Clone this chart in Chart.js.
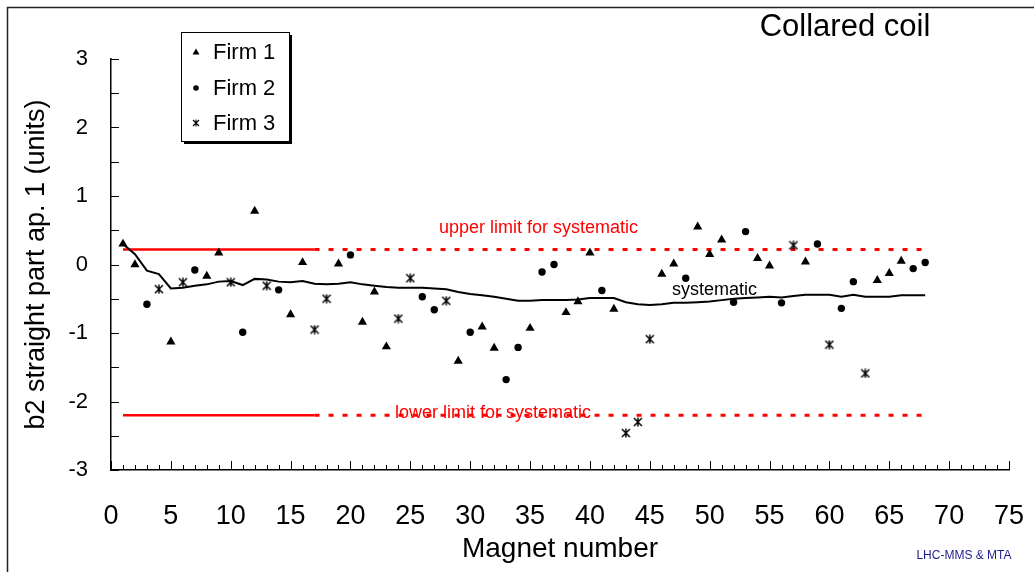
<!DOCTYPE html>
<html lang="en">
<head>
    <meta charset="UTF-8">
    <title>Collared coil - b2 straight part</title>
    <script src="https://cdn.jsdelivr.net/npm/chart.js"></script>
    <style>
        body { margin: 0; background: #fff; overflow: hidden; }
        canvas { display: block; }
    </style>
</head>
<body>
    <canvas id="coilChart" width="1034" height="572"></canvas>

    <script>
        const FONT = "'Liberation Sans', Arial, sans-serif";

        // Series names
        const seriesNames = ['Firm 1', 'Firm 2', 'Firm 3'];

        // Firm 1 (triangles)
        const firm1Magnets = [1, 2, 5, 8, 9, 12, 15, 16, 19, 21, 22, 23, 29, 31, 32, 35, 38, 39, 40, 42, 46, 47, 49, 50, 51, 54, 55, 58, 64, 65, 66];
        const firm1Values = [0.30, 0.00, -1.13, -0.17, 0.17, 0.78, -0.73, 0.03, 0.01, -0.84, -0.40, -1.20, -1.41, -0.91, -1.22, -0.93, -0.70, -0.54, 0.17, -0.65, -0.14, 0.01, 0.55, 0.15, 0.36, 0.09, -0.02, 0.04, -0.23, -0.13, 0.05];

        // Firm 2 (dots)
        const firm2Magnets = [3, 7, 11, 14, 20, 26, 27, 30, 33, 34, 36, 37, 41, 48, 52, 53, 56, 59, 61, 62, 67, 68];
        const firm2Values = [-0.58, -0.08, -0.99, -0.37, 0.14, -0.47, -0.66, -0.99, -1.68, -1.21, -0.11, 0.00, -0.38, -0.20, -0.55, 0.48, -0.56, 0.30, -0.64, -0.25, -0.06, 0.03];

        // Firm 3 (stars)
        const firm3Magnets = [4, 6, 10, 13, 17, 18, 24, 25, 28, 43, 44, 45, 57, 60, 63];
        const firm3Values = [-0.36, -0.26, -0.26, -0.31, -0.95, -0.50, -0.79, -0.20, -0.53, -2.46, -2.30, -1.09, 0.28, -1.17, -1.59];

        // Systematic (running mean), magnets 1..68
        const systematic = [
            0.30, 0.15, -0.09, -0.14, -0.35, -0.34, -0.31, -0.29, -0.25, -0.24,
            -0.30, -0.21, -0.22, -0.25, -0.26, -0.24, -0.28, -0.29, -0.28, -0.26,
            -0.29, -0.31, -0.33, -0.34, -0.34, -0.34, -0.35, -0.36, -0.40, -0.43,
            -0.45, -0.47, -0.50, -0.53, -0.53, -0.52, -0.52, -0.52, -0.51, -0.49,
            -0.49, -0.49, -0.55, -0.58, -0.59, -0.58, -0.56, -0.56, -0.55, -0.54,
            -0.52, -0.50, -0.49, -0.48, -0.47, -0.48, -0.46, -0.44, -0.44, -0.44,
            -0.47, -0.44, -0.47, -0.47, -0.47, -0.45, -0.45, -0.45
        ];

        // Limits for the systematic part
        const upperLimit = 0.22;
        const lowerLimit = -2.2;
        const limitSolidFrom = 1, limitSolidTo = 17, limitDashTo = 68;

        // Axes
        const xMin = 0, xMax = 75, xStep = 5;
        const yMin = -3, yMax = 3, yStep = 1, yMinorStep = 0.5;

        function toPoints(xs, ys) {
            return xs.map((x, i) => ({ x: x, y: ys[i] }));
        }

        // Excel-like star marker: X crossed by a vertical bar
        function makeStar(size, lw) {
            const c = document.createElement('canvas');
            c.width = size; c.height = size;
            const g = c.getContext('2d');
            g.strokeStyle = '#000';
            g.lineWidth = lw;
            const a = 1, b = size - 1, m = size / 2;
            g.beginPath();
            g.moveTo(a, a); g.lineTo(b, b);
            g.moveTo(b, a); g.lineTo(a, b);
            g.moveTo(m, a - 0.5); g.lineTo(m, b + 0.5);
            g.stroke();
            return c;
        }
        const starMarker = makeStar(10, 1.5);
        const starSmall = makeStar(8, 1.1);

        // Sheet frame (top and left edges only) + ticks pointing into the plot
        const frameAndTicks = {
            id: 'frameAndTicks',
            beforeDraw(chart) {
                const ctx = chart.ctx;
                ctx.save();
                ctx.strokeStyle = '#222';
                ctx.lineWidth = 1.5;
                ctx.beginPath();
                ctx.moveTo(7.5, chart.height);
                ctx.lineTo(7.5, 7.5);
                ctx.lineTo(chart.width, 7.5);
                ctx.stroke();
                ctx.restore();
            },
            afterDraw(chart) {
                const { ctx, scales: { x, y } } = chart;
                ctx.save();
                ctx.strokeStyle = '#000';
                ctx.lineWidth = 1;
                ctx.beginPath();
                for (let v = xMin; v <= xMax; v++) {
                    const px = Math.round(x.getPixelForValue(v)) + 0.5;
                    const len = v % xStep === 0 ? 9 : 5;
                    ctx.moveTo(px, y.bottom);
                    ctx.lineTo(px, y.bottom - len);
                }
                for (let v = yMin; v <= yMax + 1e-9; v += yMinorStep) {
                    const py = Math.round(y.getPixelForValue(v)) + 0.5;
                    ctx.moveTo(x.left, py);
                    ctx.lineTo(x.left + 8, py);
                }
                ctx.stroke();
                ctx.restore();
            }
        };

        // Texts, legend box and labels
        const annotations = {
            id: 'annotations',
            afterDraw(chart) {
                const { ctx, scales: { x, y } } = chart;
                ctx.save();
                ctx.textBaseline = 'middle';
                ctx.textAlign = 'center';

                ctx.fillStyle = '#ff0000';
                ctx.font = '18px ' + FONT;
                ctx.fillText('upper limit for systematic', x.getPixelForValue(35.7), y.getPixelForValue(upperLimit) - 21);
                ctx.fillText('lower limit for systematic', x.getPixelForValue(31.9), y.getPixelForValue(lowerLimit) - 2);

                ctx.fillStyle = '#000';
                ctx.fillText('systematic', x.getPixelForValue(50.4), y.getPixelForValue(-0.37));

                ctx.font = '31px ' + FONT;
                ctx.fillText('Collared coil', 845, 27);

                ctx.fillStyle = '#1c1c8c';
                ctx.font = '12px ' + FONT;
                ctx.fillText('LHC-MMS & MTA', 964, 556);

                // legend
                const lx = 181, ly = 32, lw = 108, lh = 109;
                ctx.fillStyle = '#000';
                ctx.fillRect(lx + 3, ly + 3, lw, lh);
                ctx.fillStyle = '#fff';
                ctx.fillRect(lx, ly, lw, lh);
                ctx.strokeStyle = '#000';
                ctx.lineWidth = 1;
                ctx.strokeRect(lx + 0.5, ly + 0.5, lw, lh);

                const rows = [52, 88, 123];
                ctx.fillStyle = '#000';
                ctx.font = '22px ' + FONT;
                ctx.textAlign = 'left';
                rows.forEach((ry, i) => {
                    const mx = 196;
                    ctx.beginPath();
                    if (i === 0) {
                        ctx.moveTo(mx, ry - 3.5); ctx.lineTo(mx + 3.5, ry + 2.5); ctx.lineTo(mx - 3.5, ry + 2.5);
                        ctx.closePath(); ctx.fill();
                    } else if (i === 1) {
                        ctx.arc(mx, ry, 2.8, 0, Math.PI * 2); ctx.fill();
                    } else {
                        ctx.drawImage(starSmall, mx - 4, ry - 4);
                    }
                    ctx.fillText(seriesNames[i], 213, ry + 1);
                });
                ctx.restore();
            }
        };

        const config = {
            type: 'scatter',
            data: {
                datasets: [
                    {
                        label: seriesNames[0], data: toPoints(firm1Magnets, firm1Values),
                        pointStyle: 'triangle', pointRadius: 5.3, backgroundColor: '#000', borderColor: '#000', borderWidth: 0, order: 1
                    },
                    {
                        label: seriesNames[1], data: toPoints(firm2Magnets, firm2Values),
                        pointStyle: 'circle', pointRadius: 3.7, backgroundColor: '#000', borderColor: '#000', borderWidth: 0, order: 1
                    },
                    {
                        label: seriesNames[2], data: toPoints(firm3Magnets, firm3Values),
                        pointStyle: starMarker, pointRadius: 5, order: 1
                    },
                    {
                        label: 'systematic', data: systematic.map((v, i) => ({ x: i + 1, y: v })),
                        showLine: true, pointRadius: 0, borderColor: '#000', borderWidth: 2, order: 2
                    },
                    {
                        label: 'upper solid', data: [{ x: limitSolidFrom, y: upperLimit }, { x: limitSolidTo, y: upperLimit }],
                        showLine: true, pointRadius: 0, borderColor: '#ff0000', borderWidth: 2.5, order: 3
                    },
                    {
                        label: 'upper dashed', data: [{ x: limitSolidTo, y: upperLimit }, { x: limitDashTo, y: upperLimit }],
                        showLine: true, pointRadius: 0, borderColor: '#ff0000', borderWidth: 3, borderDash: [5, 9], order: 3
                    },
                    {
                        label: 'lower solid', data: [{ x: limitSolidFrom, y: lowerLimit }, { x: limitSolidTo, y: lowerLimit }],
                        showLine: true, pointRadius: 0, borderColor: '#ff0000', borderWidth: 2.5, order: 3
                    },
                    {
                        label: 'lower dashed', data: [{ x: limitSolidTo, y: lowerLimit }, { x: limitDashTo, y: lowerLimit }],
                        showLine: true, pointRadius: 0, borderColor: '#ff0000', borderWidth: 3, borderDash: [5, 9], order: 3
                    }
                ]
            },
            options: {
                responsive: false,
                animation: false,
                events: [],
                layout: { padding: { left: 0, top: 59, right: 25, bottom: 0 } },
                plugins: {
                    legend: { display: false },
                    tooltip: { enabled: false }
                },
                scales: {
                    x: {
                        type: 'linear', min: xMin, max: xMax,
                        afterFit: s => { s.height = 102; },
                        grid: { drawOnChartArea: false, drawTicks: false },
                        border: { display: true, color: '#000', width: 1.5 },
                        // tall line height pushes labels down without adding side padding
                        ticks: { stepSize: xStep, autoSkip: false, maxRotation: 0, padding: 0, color: '#000', font: { family: FONT, size: 27, lineHeight: 94 / 27 } },
                        title: { display: true, text: 'Magnet number', color: '#000', font: { family: FONT, size: 28 }, padding: { top: 0, bottom: 6 } }
                    },
                    y: {
                        min: yMin, max: yMax,
                        afterFit: s => { s.width = 111; },
                        grid: { drawOnChartArea: false, drawTicks: false },
                        border: { display: true, color: '#000', width: 1.5 },
                        ticks: { stepSize: yStep, padding: 23, color: '#000', font: { family: FONT, size: 22 } },
                        title: { display: true, text: 'b2 straight part ap. 1 (units)', color: '#000', font: { family: FONT, size: 27 }, padding: { top: 20, bottom: 0 } }
                    }
                }
            },
            plugins: [frameAndTicks, annotations]
        };

        new Chart(document.getElementById('coilChart'), config);
    </script>
</body>
</html>
